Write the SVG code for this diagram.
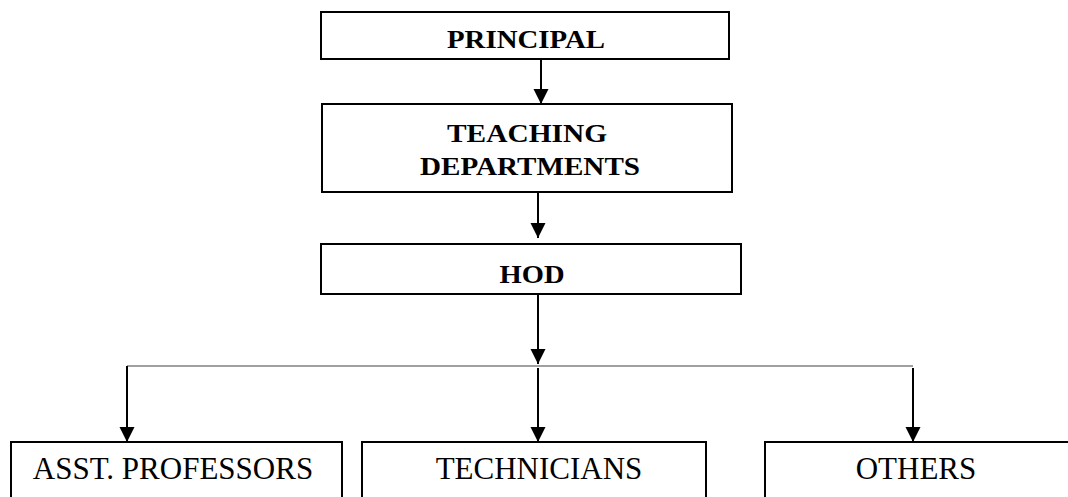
<svg xmlns="http://www.w3.org/2000/svg" width="1068" height="497" viewBox="0 0 1068 497">
<style>
.box{fill:#fff;stroke:#000;stroke-width:2}
.bt{font-family:"Liberation Serif","Times New Roman",serif;font-weight:bold;font-size:26px;text-anchor:middle;fill:#000}
.rt{font-family:"Liberation Serif","Times New Roman",serif;font-size:31px;text-anchor:middle;fill:#000}
.arr{stroke:#000;stroke-width:2;fill:none;marker-end:url(#ah)}
.bus{stroke:#808080;stroke-width:1.3;fill:none}
</style>
<defs>
<marker id="ah" markerUnits="userSpaceOnUse" markerWidth="16" markerHeight="16" refX="15" refY="7.5" orient="auto">
<path d="M0,0 L15,7.5 L0,15 z" fill="#000"/>
</marker>
</defs>
<rect width="1068" height="497" fill="#fff"/>
<g id="connectors">
<line class="arr" x1="541" y1="59" x2="541" y2="104"/>
<line class="arr" x1="538" y1="192" x2="538" y2="238"/>
<line class="arr" x1="538" y1="294" x2="538" y2="364"/>
<line class="bus" x1="127" y1="366" x2="913" y2="366"/>
<line class="arr" x1="127" y1="366" x2="127" y2="442"/>
<line class="arr" x1="538" y1="368" x2="538" y2="442"/>
<line class="arr" x1="913" y1="368" x2="913" y2="442"/>
</g>
<g id="principal">
<rect class="box" x="321" y="12" width="408" height="47"/>
<text class="bt" x="526" y="48" textLength="158" lengthAdjust="spacingAndGlyphs">PRINCIPAL</text>
</g>
<g id="teaching">
<rect class="box" x="322" y="104" width="410" height="88"/>
<text class="bt" x="527" y="142" textLength="160" lengthAdjust="spacingAndGlyphs">TEACHING</text>
<text class="bt" x="530" y="175" textLength="220" lengthAdjust="spacingAndGlyphs">DEPARTMENTS</text>
</g>
<g id="hod">
<rect class="box" x="321" y="244" width="420" height="50"/>
<text class="bt" x="532" y="283" textLength="65" lengthAdjust="spacingAndGlyphs">HOD</text>
</g>
<g id="asst">
<rect class="box" x="11" y="442" width="331" height="70"/>
<text class="rt" x="173" y="479">ASST. PROFESSORS</text>
</g>
<g id="technicians">
<rect class="box" x="362" y="442" width="344" height="70"/>
<text class="rt" x="539" y="479">TECHNICIANS</text>
</g>
<g id="others">
<rect class="box" x="765" y="442" width="320" height="70"/>
<text class="rt" x="916" y="479">OTHERS</text>
</g>
</svg>
